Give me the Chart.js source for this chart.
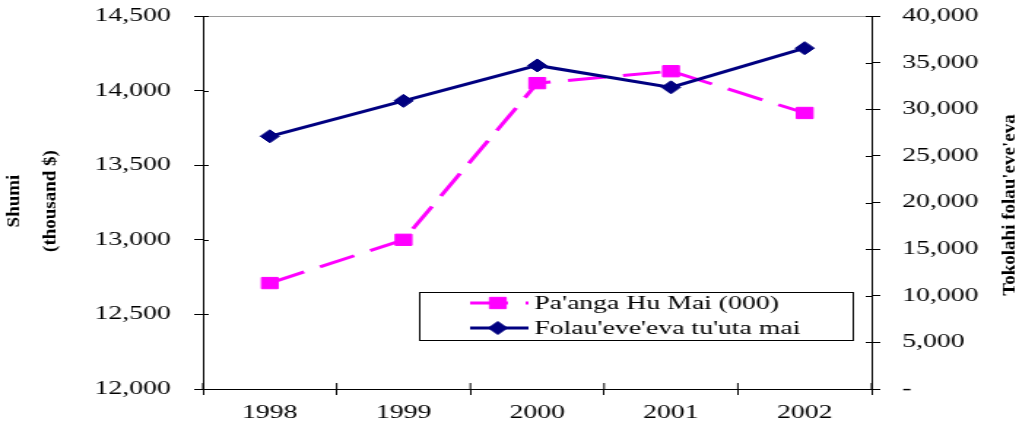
<!DOCTYPE html>
<html>
<head>
<meta charset="utf-8">
<script src="https://cdn.jsdelivr.net/npm/chart.js@4/dist/chart.umd.min.js"></script>
<style>
html, body { margin: 0; padding: 0; background: #fff; overflow: hidden; }
#chart { display: block; }
</style>
</head>
<body>
<!-- the original chart is stretched sideways, so the canvas is drawn narrow and scaled up -->
<canvas id="chart" width="698" height="427" style="width:1019px;height:427px"></canvas>
<script>
// Data
const years = ['1998', '1999', '2000', '2001', '2002'];
const moneyIn = [12710, 13000, 14050, 14130, 13850];
const visitors = [27100, 30900, 34700, 32350, 36550];
const moneyRange = [12000, 14500, 500];
const visitorRange = [0, 40000, 5000];

const serif = '"Liberation Serif", "Times New Roman", serif';
const tickFont = { family: serif, size: 19 };
const fmt = v => v.toLocaleString('en-US');

// fixed axis sizes so the plot area sits where the original one does
const fitY = width => s => {
    s.width = width;
    s.paddingTop = 0;
    s.paddingBottom = 0;
};

// Axis titles, inner tick stubs, top border and the legend box
const extras = {
    id: 'extras',
    afterDraw(chart) {
        const { ctx, chartArea: a, scales } = chart;
        ctx.save();

        // light top border of the plot area
        ctx.strokeStyle = '#9a9a9a';
        ctx.lineWidth = 1;
        ctx.beginPath();
        ctx.moveTo(a.left, a.top + 0.5);
        ctx.lineTo(a.right, a.top + 0.5);
        ctx.stroke();

        // tick marks crossing into the plot
        ctx.strokeStyle = '#000';
        ctx.beginPath();
        scales.y.ticks.forEach((t, i) => {
            const py = Math.round(scales.y.getPixelForTick(i)) + 0.5;
            ctx.moveTo(a.left, py);
            ctx.lineTo(a.left + 4, py);
        });
        scales.y1.ticks.forEach((t, i) => {
            const py = Math.round(scales.y1.getPixelForTick(i)) + 0.5;
            ctx.moveTo(a.right - 4, py);
            ctx.lineTo(a.right, py);
        });
        for (let i = 0; i <= years.length; i++) {
            const px = scales.x.getPixelForValue(i - 0.5);
            ctx.moveTo(px, a.bottom);
            ctx.lineTo(px, a.bottom - 6);
        }
        ctx.stroke();

        // axis titles (squeezed bold serif, reading upwards)
        ctx.fillStyle = '#000';
        ctx.font = 'bold 19px ' + serif;
        ctx.textAlign = 'center';
        ctx.textBaseline = 'middle';
        const vText = (text, x, y) => {
            ctx.save();
            ctx.translate(x, y);
            ctx.rotate(-Math.PI / 2);
            ctx.scale(1, 0.7);
            ctx.fillText(text, 0, 0);
            ctx.restore();
        };
        vText('Shumi', 10, 201);
        vText('(thousand $)', 35, 201);
        vText("Tokolahi folau'eve'eva", 692, 205);

        // legend
        const box = { x: 287.5, y: 292, w: 297, h: 48 };
        ctx.fillStyle = '#fff';
        ctx.fillRect(box.x, box.y, box.w, box.h);
        ctx.strokeStyle = '#000';
        ctx.strokeRect(box.x, box.y + 0.5, box.w, box.h);
        ctx.font = '19px ' + serif;
        ctx.textAlign = 'left';
        chart.data.datasets.forEach((ds, i) => {
            const y = box.y + 11 + i * 25;
            ctx.strokeStyle = ds.borderColor;
            ctx.fillStyle = ds.backgroundColor;
            ctx.lineWidth = ds.borderWidth;
            ctx.setLineDash(ds.borderDash || []);
            ctx.beginPath();
            ctx.moveTo(322, y);
            ctx.lineTo(362, y);
            ctx.stroke();
            ctx.setLineDash([]);
            ctx.lineWidth = 1;
            Chart.helpers.drawPoint(ctx, { pointStyle: ds.pointStyle, radius: ds.pointRadius, rotation: 0, borderWidth: 1 }, 341, y);
            ctx.fillStyle = '#000';
            ctx.fillText(ds.label, 366, y + 1);
        });
        ctx.restore();
    }
};

const chart = new Chart(document.getElementById('chart'), {
    type: 'line',
    data: {
        labels: years,
        datasets: [
            {
                label: "Pa'anga Hu Mai (000)",
                data: moneyIn,
                yAxisID: 'y',
                order: 1,
                borderColor: '#FF00FF',
                backgroundColor: '#FF00FF',
                borderWidth: 3,
                borderDash: [26, 12],
                pointStyle: 'rect',
                pointRadius: 8,
                pointHoverRadius: 8,
                pointBorderWidth: 1
            },
            {
                label: "Folau'eve'eva tu'uta mai",
                data: visitors,
                yAxisID: 'y1',
                order: 0,
                borderColor: '#000080',
                backgroundColor: '#000080',
                borderWidth: 3,
                pointStyle: 'rectRot',
                pointRadius: 6.5,
                pointHoverRadius: 6.5,
                pointBorderWidth: 1
            }
        ]
    },
    options: {
        responsive: false,
        animation: false,
        devicePixelRatio: 1,
        layout: { padding: { top: 16, left: 0, right: 0, bottom: 0 } },
        plugins: {
            legend: { display: false },
            tooltip: { enabled: false }
        },
        scales: {
            x: {
                offset: true,
                grid: { offset: true, drawOnChartArea: false, tickLength: 6, tickColor: '#000' },
                border: { color: '#000', width: 1 },
                ticks: { font: tickFont, color: '#000', padding: 7, maxRotation: 0 },
                afterFit: s => { s.height = 38; }
            },
            y: {
                position: 'left',
                min: moneyRange[0],
                max: moneyRange[1],
                grid: { drawOnChartArea: false, tickLength: 6, tickColor: '#000' },
                border: { color: '#000', width: 1 },
                ticks: { stepSize: moneyRange[2], font: tickFont, color: '#000', padding: 16, callback: v => fmt(v) },
                afterFit: fitY(139)
            },
            y1: {
                position: 'right',
                min: visitorRange[0],
                max: visitorRange[1],
                grid: { drawOnChartArea: false, tickLength: 6, tickColor: '#000' },
                border: { color: '#000', width: 1 },
                ticks: { stepSize: visitorRange[2], font: tickFont, color: '#000', padding: 15, callback: v => v === 0 ? '-' : fmt(v) },
                afterFit: fitY(101)
            }
        }
    },
    plugins: [extras]
});
</script>
</body>
</html>
